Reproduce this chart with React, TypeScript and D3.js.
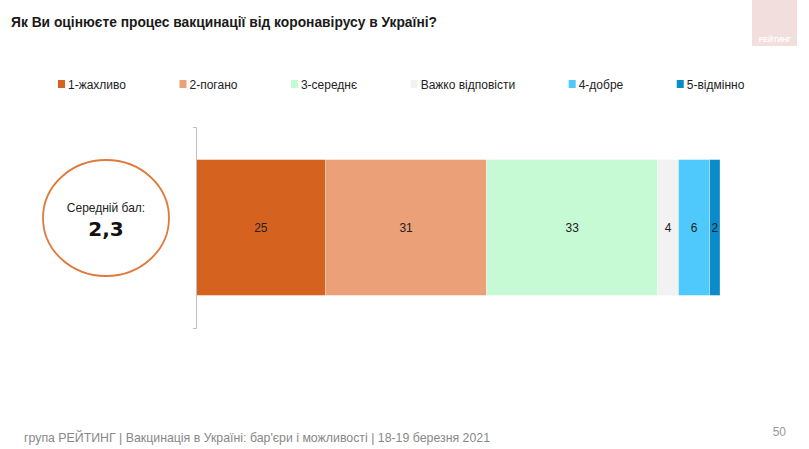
import React, { useRef, useEffect } from "react";
import * as d3 from "d3";

// chart data
const categories = ["1-жахливо", "2-погано", "3-середнє", "Важко відповісти", "4-добре", "5-відмінно"];
const values = [25, 31, 33, 4, 6, 2];
const colors = ["#d6621f", "#eba078", "#c6fad4", "#f2f2f2", "#4fc9fc", "#0b8bc9"];
const title = "Як Ви оцінюєте процес вакцинації від коронавірусу в Україні?";
const footer = "група РЕЙТИНГ | Вакцинація в Україні: бар'єри і можливості | 18-19 березня 2021";
const avgLabel = "Середній бал:";
const avgValue = "2,3";
const pageNumber = "50";

const App = () => {
  const ref = useRef<SVGSVGElement>(null);

  useEffect(() => {
    const width = 809;
    const height = 449;
    const font = "'Liberation Sans', Arial, sans-serif";

    const svg = d3.select(ref.current);
    svg.selectAll("*").remove();
    svg.attr("width", width).attr("height", height).style("font-family", font);

    svg.append("rect").attr("width", width).attr("height", height).attr("fill", "#fff");

    // title
    svg.append("text")
      .attr("x", 11).attr("y", 27)
      .attr("font-size", 14).attr("font-weight", "bold").attr("fill", "#1a1a1a")
      .attr("textLength", 426).attr("lengthAdjust", "spacingAndGlyphs")
      .text(title);

    // logo
    svg.append("rect").attr("x", 752).attr("y", 0).attr("width", 45).attr("height", 46).attr("fill", "#f3dede");
    svg.append("text").attr("x", 775).attr("y", 42).attr("text-anchor", "middle")
      .attr("font-size", 7).attr("font-weight", "bold").attr("fill", "#fff").text("РЕЙТИНГ");

    // legend
    let lx = 58;
    categories.forEach((c, i) => {
      const g = svg.append("g").attr("transform", `translate(${lx},84)`);
      g.append("rect").attr("x", 0).attr("y", -4).attr("width", 7).attr("height", 8).attr("fill", colors[i]);
      const t = g.append("text").attr("x", 10).attr("y", 4.5)
        .attr("font-size", 12).attr("fill", "#222").text(c);
      const w = (t.node() as SVGTextElement).getComputedTextLength();
      lx += 10 + w + 53.5;
    });

    // scales
    const x = d3.scaleLinear().domain([0, d3.sum(values)]).range([196, 720]);
    const y = d3.scaleBand().domain(["row"]).range([127, 328]).paddingInner(0).paddingOuter(0.24);

    // stacked bar
    const stack = d3.cumsum(values);
    const segs = values.map((v, i) => ({ v, i, x0: stack[i] - v, x1: stack[i] }));

    svg.append("g").selectAll("rect")
      .data(segs)
      .enter()
      .append("rect")
        .attr("x", d => x(d.x0))
        .attr("y", y("row")!)
        .attr("width", d => x(d.x1) - x(d.x0))
        .attr("height", y.bandwidth())
        .attr("fill", d => colors[d.i])
        .attr("stroke", "#fff")
        .attr("stroke-opacity", 0.5)
        .attr("stroke-width", 0.6);

    svg.append("g").selectAll("text")
      .data(segs)
      .enter()
      .append("text")
        .attr("x", d => (x(d.x0) + x(d.x1)) / 2)
        .attr("y", y("row")! + y.bandwidth() / 2 + 4.5)
        .attr("text-anchor", "middle")
        .attr("font-size", 12)
        .attr("fill", "#222")
        .text(d => d.v);

    // axis
    const axis = svg.append("g")
      .attr("transform", "translate(196,0)")
      .call(d3.axisLeft(y).tickSizeInner(0).tickSizeOuter(3).tickFormat(() => ""));
    axis.select(".domain").attr("stroke", "#bfbfbf");
    axis.selectAll(".tick").remove();

    // mean ellipse
    svg.append("ellipse")
      .attr("cx", 106).attr("cy", 218).attr("rx", 63).attr("ry", 58)
      .attr("fill", "none").attr("stroke", "#e07a3c").attr("stroke-width", 1.8);
    svg.append("text").attr("x", 106).attr("y", 212).attr("text-anchor", "middle")
      .attr("font-size", 12).attr("fill", "#222").text(avgLabel);
    svg.append("text").attr("x", 106).attr("y", 236).attr("text-anchor", "middle")
      .attr("font-family", "'DejaVu Sans', sans-serif")
      .attr("font-size", 20).attr("font-weight", "bold").attr("fill", "#111").text(avgValue);

    // footer
    svg.append("text").attr("x", 24).attr("y", 442)
      .attr("font-size", 13).attr("fill", "#888")
      .attr("textLength", 466).attr("lengthAdjust", "spacingAndGlyphs")
      .text(footer);
    svg.append("text").attr("x", 786).attr("y", 436).attr("text-anchor", "end")
      .attr("font-size", 12).attr("fill", "#999").text(pageNumber);
  }, []);

  return (
    <svg ref={ref} width={809} height={449} style={{ position: "absolute", left: 0, top: 0 }} />
  );
};

export default App;
